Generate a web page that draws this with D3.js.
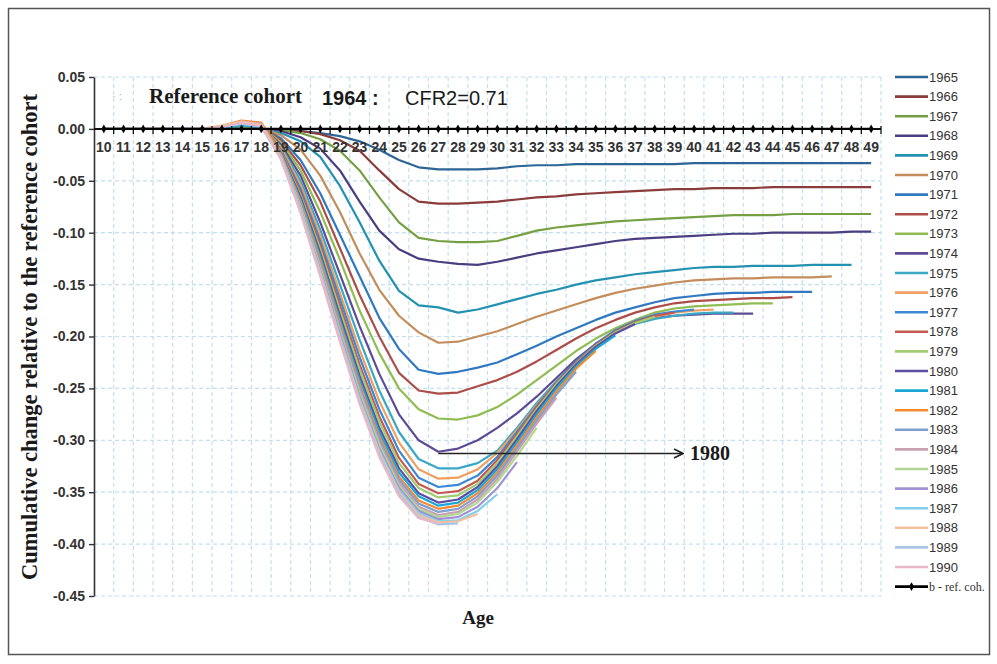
<!DOCTYPE html>
<html>
<head>
<meta charset="utf-8">
<script src="https://cdn.jsdelivr.net/npm/d3@7"></script>
<style>
  body { margin: 0; background: #fff; }
</style>
</head>
<body>
<svg id="chart" width="997" height="664"></svg>
<script>
// cumulative change relative to reference cohort 1964, by age (values start at age 10)

const ages = d3.range(10, 50)
const yTicks = [0.05, 0, -0.05, -0.10, -0.15, -0.20, -0.25, -0.30, -0.35, -0.40, -0.45]
const yTickLabels = ["0.05", "0.00", "-0.05", "-0.10", "-0.15", "-0.20", "-0.25", "-0.30", "-0.35", "-0.40", "-0.45"]

const cohorts = [1965, 1966, 1967, 1968, 1969, 1970, 1971, 1972, 1973, 1974, 1975, 1976, 1977,
                 1978, 1979, 1980, 1981, 1982, 1983, 1984, 1985, 1986, 1987, 1988, 1989, 1990]

const c1965 = [0,0,0,0,0,0,0,0,0, -0.001,-0.002,-0.004,-0.007,-0.012,-0.020,-0.030,-0.037,-0.039,-0.039,-0.039,-0.038,-0.036,-0.035,-0.035,-0.034,
               -0.034,-0.034,-0.034,-0.034,-0.034,-0.033,-0.033,-0.033,-0.033,-0.033,-0.033,-0.033,-0.033,-0.033,-0.033]
const c1966 = [0,0,0,0,0,0,0,0,0, -0.001,-0.002,-0.005,-0.011,-0.021,-0.040,-0.058,-0.070,-0.072,-0.072,-0.071,-0.070,-0.068,-0.066,-0.065,-0.063,
               -0.062,-0.061,-0.060,-0.059,-0.058,-0.058,-0.057,-0.057,-0.057,-0.056,-0.056,-0.056,-0.056,-0.056,-0.056]
const c1967 = [0,0,0,0,0,0,0,0,0, -0.001,-0.004,-0.010,-0.021,-0.040,-0.066,-0.090,-0.105,-0.108,-0.109,-0.109,-0.108,-0.103,-0.098,-0.095,-0.093,
               -0.091,-0.089,-0.088,-0.087,-0.086,-0.085,-0.084,-0.083,-0.083,-0.083,-0.082,-0.082,-0.082,-0.082,-0.082]
const c1968 = [0,0,0,0,0,0,0,0,0, -0.002,-0.008,-0.019,-0.040,-0.070,-0.098,-0.116,-0.125,-0.128,-0.130,-0.131,-0.128,-0.124,-0.120,-0.117,-0.114,
               -0.111,-0.108,-0.106,-0.105,-0.104,-0.103,-0.102,-0.101,-0.101,-0.100,-0.100,-0.100,-0.100,-0.099,-0.099]
const c1969 = [0,0,0,0,0,0,0,0,0, -0.004,-0.012,-0.027,-0.055,-0.090,-0.127,-0.156,-0.170,-0.172,-0.177,-0.174,-0.169,-0.164,-0.159,-0.155,-0.150,
               -0.146,-0.143,-0.140,-0.138,-0.136,-0.134,-0.133,-0.133,-0.132,-0.132,-0.132,-0.131,-0.131,-0.131]
const c1970 = [0,0,0,0,0,0,0,0, 0.001, -0.006,-0.020,-0.045,-0.080,-0.120,-0.155,-0.180,-0.196,-0.206,-0.205,-0.200,-0.195,-0.188,-0.181,-0.175,-0.169,
               -0.163,-0.158,-0.154,-0.151,-0.148,-0.146,-0.145,-0.144,-0.144,-0.143,-0.143,-0.143,-0.142]
const c1971 = [0,0,0,0,0,0,0,0, 0.001, -0.009,-0.030,-0.062,-0.102,-0.142,-0.182,-0.212,-0.232,-0.236,-0.234,-0.230,-0.225,-0.217,-0.209,-0.200,-0.192,
               -0.184,-0.177,-0.172,-0.167,-0.163,-0.161,-0.159,-0.158,-0.158,-0.157,-0.157,-0.157]
const c1972 = [0,0,0,0,0,0,0, 0.002,0.002, -0.011,-0.035,-0.070,-0.115,-0.160,-0.200,-0.235,-0.252,-0.255,-0.254,-0.248,-0.242,-0.234,-0.224,-0.213,-0.202,
               -0.192,-0.184,-0.177,-0.172,-0.168,-0.166,-0.165,-0.164,-0.163,-0.163,-0.162]
const c1973 = [0,0,0,0,0,0,0, 0.002,0.002, -0.013,-0.040,-0.080,-0.126,-0.175,-0.216,-0.250,-0.270,-0.279,-0.280,-0.276,-0.268,-0.256,-0.242,-0.228,-0.214,
               -0.202,-0.192,-0.184,-0.177,-0.173,-0.171,-0.170,-0.169,-0.168,-0.168]
const c1974 = [0,0,0,0,0,0,0, 0.003,0.002, -0.015,-0.045,-0.090,-0.140,-0.190,-0.236,-0.275,-0.300,-0.311,-0.308,-0.300,-0.288,-0.274,-0.258,-0.240,-0.222,
               -0.207,-0.195,-0.187,-0.182,-0.180,-0.179,-0.178,-0.178,-0.178]
const c1975 = [0,0,0,0,0,0,0, 0.003,0.002, -0.017,-0.050,-0.097,-0.150,-0.203,-0.252,-0.292,-0.318,-0.327,-0.327,-0.322,-0.310,-0.288,-0.264,-0.243,-0.225,
               -0.208,-0.196,-0.188,-0.183,-0.180,-0.178,-0.177,-0.177]
const c1976 = [0,0,0,0,0,0, 0.002,0.006,0.004, -0.018,-0.054,-0.103,-0.158,-0.213,-0.262,-0.302,-0.328,-0.337,-0.336,-0.328,-0.312,-0.290,-0.266,-0.244,-0.225,
               -0.208,-0.196,-0.187,-0.181,-0.177,-0.175,-0.174]
const c1977 = [0,0,0,0,0,0, 0.002,0.005,0.003, -0.020,-0.058,-0.108,-0.164,-0.220,-0.270,-0.310,-0.336,-0.345,-0.343,-0.334,-0.316,-0.292,-0.267,-0.244,-0.224,
               -0.207,-0.194,-0.185,-0.179,-0.176,-0.174]
const c1978 = [0,0,0,0,0,0, 0.002,0.007,0.005, -0.021,-0.061,-0.112,-0.170,-0.227,-0.277,-0.317,-0.342,-0.351,-0.349,-0.339,-0.319,-0.294,-0.268,-0.245,-0.225,
               -0.208,-0.195,-0.186,-0.180,-0.177]
const c1979 = [0,0,0,0,0,0, 0.002,0.006,0.004, -0.022,-0.064,-0.116,-0.175,-0.232,-0.282,-0.322,-0.346,-0.355,-0.353,-0.342,-0.322,-0.296,-0.270,-0.246,-0.226,
               -0.209,-0.196,-0.187,-0.181]
const c1980 = [0,0,0,0,0,0, 0.002,0.006,0.004, -0.023,-0.066,-0.120,-0.180,-0.238,-0.288,-0.327,-0.351,-0.360,-0.357,-0.345,-0.325,-0.299,-0.272,-0.248,-0.227,
               -0.210,-0.197,-0.188]
const c1981 = [0,0,0,0,0,0, 0.002,0.007,0.004, -0.024,-0.068,-0.123,-0.184,-0.242,-0.292,-0.331,-0.354,-0.363,-0.360,-0.348,-0.328,-0.302,-0.275,-0.250,-0.229,
               -0.212,-0.199]
const c1982 = [0,0,0,0,0,0, 0.003,0.008,0.006, -0.024,-0.070,-0.126,-0.187,-0.246,-0.296,-0.335,-0.358,-0.366,-0.363,-0.351,-0.331,-0.305,-0.278,-0.253,-0.231,
               -0.214]
const c1983 = [0,0,0,0,0,0, 0.002,0.006,0.004, -0.025,-0.072,-0.129,-0.190,-0.249,-0.299,-0.338,-0.361,-0.369,-0.366,-0.354,-0.334,-0.308,-0.281,-0.256,-0.234]
const c1984 = [0,0,0,0,0,0, 0.002,0.007,0.005, -0.026,-0.074,-0.132,-0.193,-0.252,-0.302,-0.341,-0.364,-0.372,-0.369,-0.357,-0.337,-0.311,-0.284,-0.259]
const c1985 = [0,0,0,0,0,0, 0.002,0.006,0.004, -0.026,-0.075,-0.134,-0.196,-0.255,-0.305,-0.344,-0.366,-0.374,-0.371,-0.360,-0.340,-0.315,-0.288]
const c1986 = [0,0,0,0,0,0, 0.002,0.005,0.003, -0.027,-0.077,-0.136,-0.198,-0.258,-0.308,-0.346,-0.368,-0.376,-0.374,-0.364,-0.346,-0.321]
const c1987 = [0,0,0,0,0,0, 0.002,0.005,0.003, -0.028,-0.078,-0.138,-0.200,-0.260,-0.310,-0.348,-0.370,-0.378,-0.377,-0.368,-0.352]
const c1988 = [0,0,0,0,0,0, 0.003,0.007,0.004, -0.028,-0.079,-0.139,-0.202,-0.262,-0.312,-0.350,-0.372,-0.379,-0.378,-0.371]
const c1989 = [0,0,0,0,0,0, 0.002,0.005,0.002, -0.029,-0.080,-0.141,-0.204,-0.264,-0.314,-0.352,-0.374,-0.381,-0.380]
const c1990 = [0,0,0,0,0,0, 0.002,0.006,0.003, -0.029,-0.081,-0.142,-0.205,-0.265,-0.316,-0.354,-0.375,-0.380]

// reference cohort (b) is the zero line
const refValues = ages.map(() => 0)

const cohortValues = [c1965, c1966, c1967, c1968, c1969, c1970, c1971, c1972, c1973, c1974, c1975, c1976, c1977,
                      c1978, c1979, c1980, c1981, c1982, c1983, c1984, c1985, c1986, c1987, c1988, c1989, c1990]

const colors = ["#2d6596", "#8a3c3a", "#74a043", "#4a3d80", "#2391b0", "#c38d5c",
                "#3079c0", "#ad4d48", "#8fbd52", "#5e4b96", "#3aa8c5", "#efa060",
                "#3b89d6", "#c45a52", "#a2cc70", "#5c4ea2", "#1aa8d8", "#f38b35",
                "#7ea0d0", "#c8a0b2", "#b2d892", "#a092d2", "#80cfee", "#f4c09c",
                "#a9c4e8", "#e8b8c8"]

const svg = d3.select("#chart")
const serif = "'Liberation Serif', 'DejaVu Serif', serif"
const sans = "'Liberation Sans', Arial, sans-serif"

// outer frame
svg.append("rect")
  .attr("x", 8.5).attr("y", 8.5)
  .attr("width", 981).attr("height", 646)
  .attr("fill", "#fff")
  .attr("stroke", "#555").attr("stroke-width", 1.5)

const x = d3.scaleLinear().domain([9.5, 49.5]).range([94, 881])
const y = d3.scaleLinear().domain([-0.45, 0.05]).range([596, 77])

// gridlines
const grid = svg.append("g")
grid.selectAll("line.h")
  .data(yTicks.filter(d => d != 0))
  .enter().append("line")
  .attr("class", "h")
  .attr("x1", x(9.5)).attr("x2", x(49.5))
  .attr("y1", d => y(d)).attr("y2", d => y(d))
  .attr("stroke", "#c2e0ef").attr("stroke-width", 1.2)
  .attr("stroke-dasharray", "4,3")

grid.selectAll("line.v")
  .data(d3.range(10.5, 50, 1))
  .enter().append("line")
  .attr("class", "v")
  .attr("x1", d => x(d)).attr("x2", d => x(d))
  .attr("y1", y(0.05)).attr("y2", y(-0.45))
  .attr("stroke", "#c2e0ef").attr("stroke-width", 1.2)
  .attr("stroke-dasharray", "4,3")

// y axis
const yAxis = svg.append("g")
  .attr("transform", `translate(${x(9.5)},0)`)
  .call(d3.axisLeft(y).tickValues(yTicks).tickSize(5).tickSizeOuter(0)
        .tickFormat((d, i) => yTickLabels[i]))
yAxis.select(".domain").attr("stroke", "#333").attr("stroke-width", 1.6)
yAxis.selectAll(".tick line").attr("stroke", "#333").attr("stroke-width", 1.4)
yAxis.selectAll(".tick text")
  .attr("x", -9)
  .attr("font-family", sans).attr("font-size", 14).attr("font-weight", "bold")
  .attr("fill", "#333")

// cohort curves
const line = d3.line()
  .x((d, i) => x(ages[i]))
  .y(d => y(d))

svg.append("g")
  .selectAll("path")
  .data(cohortValues)
  .enter().append("path")
  .attr("d", d => line(d))
  .attr("fill", "none")
  .attr("stroke", (d, i) => colors[i])
  .attr("stroke-width", 2.2)
  .attr("stroke-linejoin", "round")

// x axis on the zero line, with the reference series
svg.append("line")
  .attr("x1", x(9.5)).attr("x2", x(49.5))
  .attr("y1", y(0)).attr("y2", y(0))
  .attr("stroke", "#111").attr("stroke-width", 2)

svg.append("g")
  .selectAll("line")
  .data(d3.range(10.5, 50, 1))
  .enter().append("line")
  .attr("x1", d => x(d)).attr("x2", d => x(d))
  .attr("y1", y(0) - 3).attr("y2", y(0) + 5)
  .attr("stroke", "#111").attr("stroke-width", 1.3)

svg.append("path")
  .attr("d", line(refValues))
  .attr("fill", "none")
  .attr("stroke", "#000").attr("stroke-width", 2.4)

const diamond = d3.symbol().type(d3.symbolDiamond).size(22)
svg.append("g")
  .selectAll("path")
  .data(refValues)
  .enter().append("path")
  .attr("d", diamond)
  .attr("transform", (d, i) => `translate(${x(ages[i])},${y(d)})`)
  .attr("fill", "#000")

svg.append("g")
  .selectAll("text")
  .data(ages)
  .enter().append("text")
  .attr("x", d => x(d))
  .attr("y", y(0) + 23)
  .attr("text-anchor", "middle")
  .attr("font-family", sans).attr("font-size", 14).attr("font-weight", "bold")
  .attr("fill", "#333")
  .text(d => d)

// title line
svg.append("text")
  .attr("x", 112).attr("y", 100)
  .attr("font-family", sans).attr("font-size", 11)
  .attr("fill", "#aab")
  .text("· :")
svg.append("text")
  .attr("x", 149).attr("y", 103)
  .attr("font-family", serif).attr("font-size", 21).attr("font-weight", "bold")
  .attr("fill", "#1a1a1a")
  .text("Reference cohort")
svg.append("text")
  .attr("x", 322).attr("y", 105)
  .attr("font-family", sans).attr("font-size", 20).attr("font-weight", "bold")
  .attr("fill", "#1a1a1a")
  .text("1964 :")
svg.append("text")
  .attr("x", 405).attr("y", 105)
  .attr("font-family", sans).attr("font-size", 20)
  .attr("fill", "#1a1a1a")
  .text("CFR2=0.71")

// axis titles
svg.append("text")
  .attr("transform", "translate(37,337) rotate(-90)")
  .attr("text-anchor", "middle")
  .attr("font-family", serif).attr("font-size", 22.5).attr("font-weight", "bold")
  .attr("fill", "#1a1a1a")
  .text("Cumulative change relative to the reference cohort")

svg.append("text")
  .attr("x", 478).attr("y", 624)
  .attr("text-anchor", "middle")
  .attr("font-family", serif).attr("font-size", 19).attr("font-weight", "bold")
  .attr("fill", "#1a1a1a")
  .text("Age")

// annotation arrow
const defs = svg.append("defs")
defs.append("marker")
  .attr("id", "arrowhead")
  .attr("viewBox", "0 0 10 10")
  .attr("refX", 9).attr("refY", 5)
  .attr("markerWidth", 7).attr("markerHeight", 7)
  .attr("orient", "auto")
  .append("path")
  .attr("d", "M1,1 L9,5 L1,9")
  .attr("fill", "none").attr("stroke", "#222").attr("stroke-width", 1.5)

svg.append("line")
  .attr("x1", x(27)).attr("x2", 683)
  .attr("y1", 453.5).attr("y2", 453.5)
  .attr("stroke", "#222").attr("stroke-width", 1.6)
  .attr("marker-end", "url(#arrowhead)")

svg.append("text")
  .attr("x", 690).attr("y", 460)
  .attr("font-family", serif).attr("font-size", 20).attr("font-weight", "bold")
  .attr("fill", "#1a1a1a")
  .text("1980")

// legend
const legend = svg.append("g")
const legendItems = legend.selectAll("g")
  .data(cohorts)
  .enter().append("g")
  .attr("transform", (d, i) => `translate(895,${77 + i * 19.6})`)

legendItems.append("line")
  .attr("x1", 0).attr("x2", 33)
  .attr("stroke", (d, i) => colors[i]).attr("stroke-width", 2.6)

legendItems.append("text")
  .attr("x", 34).attr("y", 4.5)
  .attr("font-family", sans).attr("font-size", 13)
  .attr("fill", "#333")
  .text(d => d)

const refItem = legend.append("g")
  .attr("transform", `translate(895,${77 + cohorts.length * 19.6})`)
refItem.append("line")
  .attr("x1", 0).attr("x2", 33)
  .attr("stroke", "#000").attr("stroke-width", 2.6)
refItem.append("path")
  .attr("d", diamond)
  .attr("transform", "translate(16.5,0)")
  .attr("fill", "#000")
refItem.append("text")
  .attr("x", 34).attr("y", 4.5)
  .attr("font-family", serif).attr("font-size", 12)
  .attr("fill", "#333")
  .text("b - ref. coh.")
</script>
</body>
</html>
